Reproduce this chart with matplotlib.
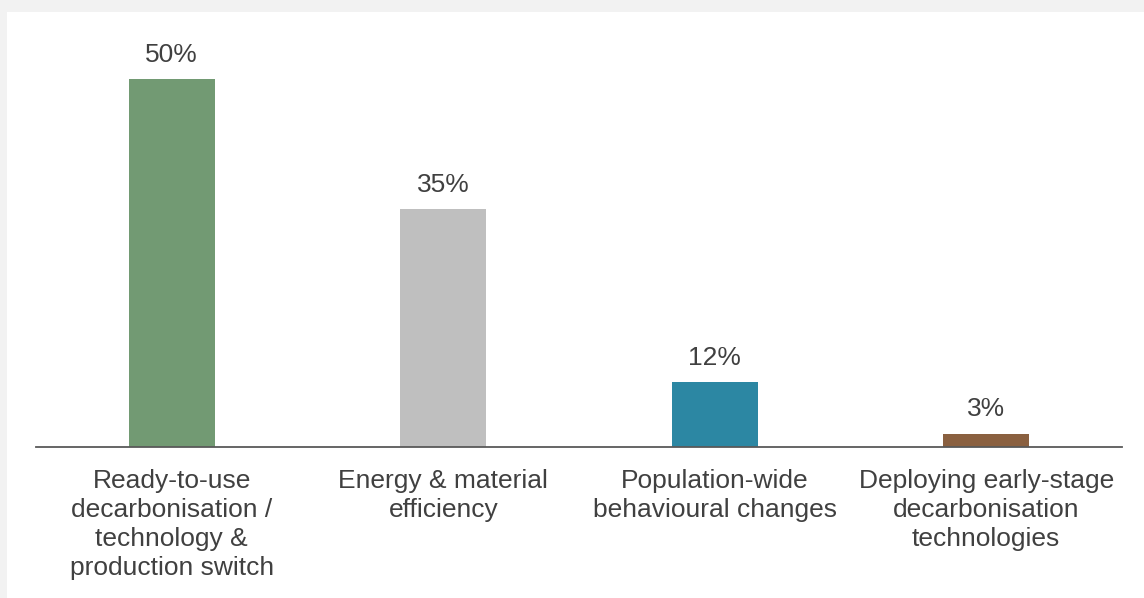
import matplotlib
matplotlib.use("Agg")
import matplotlib.pyplot as plt
from matplotlib.patches import Rectangle

# bar heights as drawn (the printed labels are rounded shares)
categories = [
    "Ready-to-use\ndecarbonisation /\ntechnology &\nproduction switch",
    "Energy & material\nefficiency",
    "Population-wide\nbehavioural changes",
    "Deploying early-stage\ndecarbonisation\ntechnologies",
]
heights = [50, 32.3, 8.8, 1.8]
value_labels = ["50%", "35%", "12%", "3%"]
colors = ["#729a73", "#bfbfbf", "#2c87a3", "#8a6040"]

plt.rcParams['font.family'] = ['Liberation Sans', 'DejaVu Sans']
text_color = "#404040"

W, H = 1144, 598
fig = plt.figure(figsize=(W / 100, H / 100), dpi=100, facecolor="#f2f2f2")
# white panel behind the chart
fig.patches.append(Rectangle((7 / W, 0), 1, (H - 12) / H, transform=fig.transFigure,
                             facecolor="white", edgecolor="none", zorder=-5))

px_per_unit = 7.36
ax_h = 435
ax = fig.add_axes([36 / W, 151 / H, 1086 / W, ax_h / H])
ax.set_facecolor("none")

x = range(len(categories))
bars = ax.bar(x, heights, width=0.317, color=colors)
ax.set_xlim(-0.5, 3.5)
ax.set_ylim(0, ax_h / px_per_unit)

for b, lab in zip(bars, value_labels):
    ax.annotate(lab, (b.get_x() + b.get_width() / 2, b.get_height()),
                xytext=(0, 9), textcoords="offset points", ha="center", va="bottom",
                fontsize=19, color=text_color)

ax.set_xticks(list(x))
ax.set_xticklabels(categories, fontsize=19, color=text_color, linespacing=1.26)
ax.tick_params(axis="x", length=0, pad=16)
ax.set_yticks([])
for s in ["top", "right", "left"]:
    ax.spines[s].set_visible(False)
ax.spines["bottom"].set_color("#595959")
ax.spines["bottom"].set_linewidth(1.3)

fig.savefig("out.png", dpi=100, facecolor=fig.get_facecolor())
